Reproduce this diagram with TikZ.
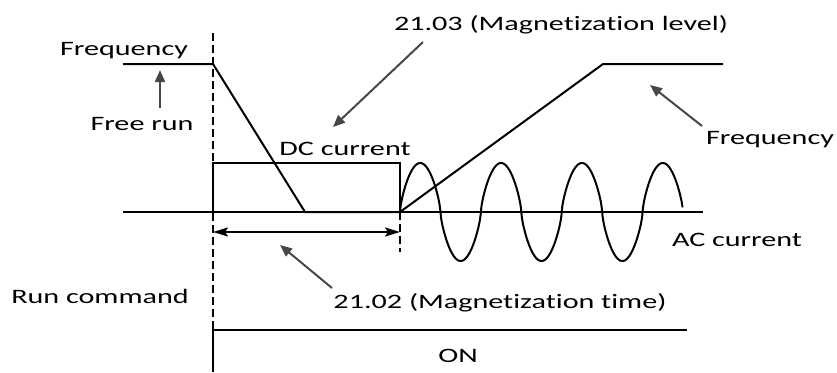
\documentclass[tikz,border=0pt]{standalone}
\usepackage{fontspec}
\setmainfont{Carlito}[FakeStretch=1.47,Ligatures=NoCommon]
\usetikzlibrary{arrows.meta}
\begin{document}
\begin{tikzpicture}[x=1pt,y=-1pt,
  lbl/.style={anchor=base, inner sep=0pt, font=\fontsize{20.5}{24}\selectfont},
  sig/.style={line width=2pt, line join=miter},
  axisline/.style={line width=1.3pt},
  note/.style={draw=black!72, line width=2pt, -{Triangle[length=12pt,width=10pt]}},
  guide/.style={line width=1.5pt, dash pattern=on 8pt off 4pt},
  dim/.style={line width=2pt, {Stealth[length=15pt,width=9pt,inset=3pt]}-{Stealth[length=15pt,width=9pt,inset=3pt]}},
]
\useasboundingbox (0,0) rectangle (837,372);
% labels
\node[lbl] (freqL) at (124,55) {Frequency};
\node[lbl] (freerun) at (142,130) {Free run};
\node[lbl] (maglevel) at (561,30) {21.03 (Magnetization level)};
\node[lbl] (dc) at (345,155) {DC current};
\node[lbl] (freqR) at (770,144) {Frequency};
\node[lbl] (ac) at (737,246) {AC current};
\node[lbl] (runcmd) at (100,303) {Run command};
\node[lbl] (magtime) at (500,308) {21.02 (Magnetization time)};
\node[lbl] (on) at (458,362) {ON};
% axis
\draw[axisline] (123,212) -- (703,212);
% dashed guides
\draw[guide] (213,33) -- (213,330);
\draw[guide] (400,212) -- (400,252);
% frequency profile
\draw[sig] (123,64) -- (213,64) -- (305,212) -- (400,212) -- (603,64) -- (723,64);
% DC current block
\draw[sig] (213,212) -- (213,163) -- (400,163) -- (400,212);
% AC current
\draw[sig] plot[domain=0:3.5, samples=400] ({400+80.86*\x}, {212-49*sign(sin(360*\x))*pow(abs(sin(360*\x)),0.7)});
% magnetization time dimension
\coordinate (t0) at (213,232);
\coordinate (t1) at (400,232);
\draw[dim] (t0) -- (t1);
% run command
\draw[sig] (213,372) -- (213,330) -- (687,330);
% annotation arrows
\coordinate (a1s) at (160,108); \coordinate (a1e) at (160,70);
\coordinate (a2s) at (423,42);  \coordinate (a2e) at (333,127);
\coordinate (a3s) at (702,126); \coordinate (a3e) at (650,85);
\coordinate (a4s) at (332,288); \coordinate (a4e) at (280,245);
\draw[note] (a1s) -- (a1e);
\draw[note] (a2s) -- (a2e);
\draw[note] (a3s) -- (a3e);
\draw[note] (a4s) -- (a4e);
\end{tikzpicture}
\end{document}
